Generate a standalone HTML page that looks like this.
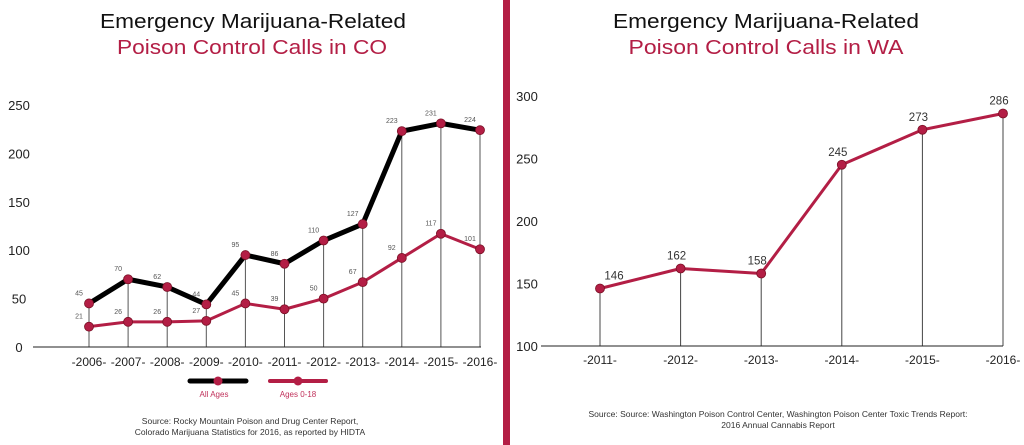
<!DOCTYPE html>
<html><head><meta charset="utf-8">
<style>
html,body{margin:0;padding:0;background:#fff;}
svg{display:block;font-family:"Liberation Sans",sans-serif;}
</style></head>
<body>
<svg id="s" width="1024" height="445" viewBox="0 0 1024 445">
  <rect x="503" y="0" width="7" height="445" fill="#b31e45"/>
  <text x="253" y="28" text-anchor="middle" font-size="20" textLength="306" lengthAdjust="spacingAndGlyphs" fill="#111">Emergency Marijuana-Related</text>
  <text x="252" y="54" text-anchor="middle" font-size="20" textLength="270" lengthAdjust="spacingAndGlyphs" fill="#b31e45">Poison Control Calls in CO</text>
  <text x="766" y="28" text-anchor="middle" font-size="20" textLength="306" lengthAdjust="spacingAndGlyphs" fill="#111">Emergency Marijuana-Related</text>
  <text x="766" y="54" text-anchor="middle" font-size="20" textLength="275" lengthAdjust="spacingAndGlyphs" fill="#b31e45">Poison Control Calls in WA</text>
  <g id="co"></g>
  <g id="wa"></g>
  <g>
    <line x1="190" y1="381" x2="246" y2="381" stroke="#000" stroke-width="5" stroke-linecap="round"/>
    <circle cx="218" cy="381" r="4.5" fill="#b31e45"/>
    <text x="214" y="397" text-anchor="middle" font-size="8" fill="#c0305a">All Ages</text>
    <line x1="270" y1="381" x2="326" y2="381" stroke="#b31e45" stroke-width="4" stroke-linecap="round"/>
    <circle cx="298" cy="381" r="4.5" fill="#b31e45"/>
    <text x="298" y="397" text-anchor="middle" font-size="8" fill="#c0305a">Ages 0-18</text>
  </g>
  <text x="250" y="424" text-anchor="middle" font-size="8.5" fill="#333">Source: Rocky Mountain Poison and Drug Center Report,</text>
  <text x="250" y="435" text-anchor="middle" font-size="8.5" fill="#333">Colorado Marijuana Statistics for 2016, as reported by HIDTA</text>
  <text x="778" y="417" text-anchor="middle" font-size="8.5" fill="#333">Source: Source: Washington Poison Control Center, Washington Poison Center Toxic Trends Report:</text>
  <text x="778" y="428" text-anchor="middle" font-size="8.5" fill="#333">2016 Annual Cannabis Report</text>
</svg>
<script>
const coYears = ["-2006-","-2007-","-2008-","-2009-","-2010-","-2011-","-2012-","-2013-","-2014-","-2015-","-2016-"];
const coAllAges = [45,70,62,44,95,86,110,127,223,231,224];
const coYouth = [21,26,26,27,45,39,50,67,92,117,101];
const coTicks = [0,50,100,150,200,250];
const waYears = ["-2011-","-2012-","-2013-","-2014-","-2015-","-2016-"];
const waCalls = [146,162,158,245,273,286];
const waTicks = [100,150,200,250,300];

const NS = "http://www.w3.org/2000/svg";
function mk(parent, tag, attrs, text) {
  const e = document.createElementNS(NS, tag);
  for (const k in attrs) e.setAttribute(k, attrs[k]);
  if (text !== undefined) e.textContent = text;
  parent.appendChild(e);
  return e;
}
const RED = "#b31e45";

// CO chart
(function(){
  const g = document.getElementById('co');
  const y = v => 347 - (v - 0) * (242 / 250);
  const x = i => 89 + i * (391 / 10);
  coTicks.forEach(t => {
    const e = mk(g, 'text', {x: 19, y: y(t) + 5, 'text-anchor': 'middle', 'font-size': 13, fill: '#222'}, t);
    
    
  });
  coAllAges.forEach((v, i) => {
    const e = mk(g, 'line', {x1: x(i), y1: y(v), x2: x(i), y2: 347, stroke: '#555', 'stroke-width': 1});
    
    
  });
  const ax = mk(g, 'line', {x1: 33, y1: 347, x2: 481, y2: 347, stroke: '#222', 'stroke-width': 1});
  
  
  coYears.forEach((t, i) => {
    const e = mk(g, 'text', {x: x(i), y: 366, 'text-anchor': 'middle', 'font-size': 12, fill: '#222'}, t);
    
    
  });
  const series = [[coAllAges, '#000', 5, 'co-all-ages'], [coYouth, RED, 3, 'co-ages-0-18']];
  series.forEach(([vals, col, w, nm]) => {
    const p = mk(g, 'polyline', {points: vals.map((v, i) => x(i) + ',' + y(v)).join(' '), fill: 'none', stroke: col, 'stroke-width': w, 'stroke-linejoin': 'round'});
    
    
  });
  series.forEach(([vals, col, w, nm]) => {
    vals.forEach((v, i) => {
      const c = mk(g, 'circle', {cx: x(i), cy: y(v), r: 4.5, fill: RED, stroke: '#7a1025', 'stroke-width': 0.8});
      
      
      const t = mk(g, 'text', {x: x(i) - 10, y: y(v) - 8, 'text-anchor': 'middle', 'font-size': 7, fill: '#555'}, v);
      
      
    });
  });
})();

// WA chart
(function(){
  const g = document.getElementById('wa');
  const y = v => 346 - (v - 100) * (250 / 200);
  const xs0 = 600, xs1 = 1003;
  const x = i => xs0 + i * ((xs1 - xs0) / (waYears.length - 1));
  waTicks.forEach(t => {
    const e = mk(g, 'text', {x: 527, y: y(t) + 5, 'text-anchor': 'middle', 'font-size': 13, fill: '#222'}, t);
    
    
  });
  waCalls.forEach((v, i) => {
    const e = mk(g, 'line', {x1: x(i), y1: y(v), x2: x(i), y2: 346, stroke: '#444', 'stroke-width': 1});
    
    
  });
  const ax = mk(g, 'line', {x1: 541, y1: 346, x2: 1003, y2: 346, stroke: '#222', 'stroke-width': 1});
  
  
  waYears.forEach((t, i) => {
    const e = mk(g, 'text', {x: x(i), y: 364, 'text-anchor': 'middle', 'font-size': 12, fill: '#222'}, t);
    
    
  });
  const p = mk(g, 'polyline', {points: waCalls.map((v, i) => x(i) + ',' + y(v)).join(' '), fill: 'none', stroke: RED, 'stroke-width': 3, 'stroke-linejoin': 'round'});
  
  
  waCalls.forEach((v, i) => {
    const c = mk(g, 'circle', {cx: x(i), cy: y(v), r: 4.5, fill: RED, stroke: '#7a1025', 'stroke-width': 0.8});
    
    
    const t = mk(g, 'text', {x: x(i) - 4 + (i === 0 ? 18 : 0), y: y(v) - 9, 'text-anchor': 'middle', 'font-size': 11.5, fill: '#333'}, v);
    
    
  });
})();
</script>
</body></html>
